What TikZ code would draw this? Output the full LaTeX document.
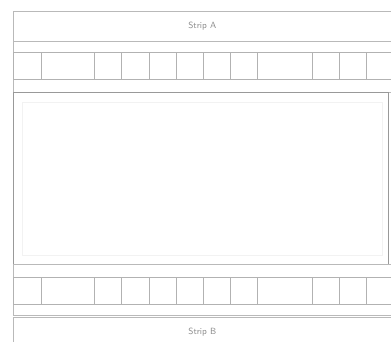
\documentclass[tikz,border=0pt]{standalone}
\usepackage{tikz}
\usetikzlibrary{positioning}

\begin{document}
\begin{tikzpicture}[
  x=1pt,y=-1pt,
  every node/.style={draw=gray!55,line width=0.6pt,rectangle,inner sep=0pt,anchor=north west},
  strip/.style={minimum width=378pt,minimum height=30pt,font=\sffamily\small,text=gray!90},
  band/.style={minimum width=378pt,minimum height=51pt},
  cell/.style={minimum height=27pt,draw=gray!60},
  panel/.style={draw=gray!80,line width=1pt,minimum width=375pt,minimum height=172pt},
  inner/.style={draw=gray!10,minimum width=360pt,minimum height=153pt}
]
  \useasboundingbox (0,0) rectangle (391,341);
  \begin{scope}
  \clip (0,0) rectangle (391,341);
  \node (stripA) [strip] at (13,11) {Strip A};
  \node (bandA) [band] at (13,41) {};
  \node (panel) [panel] at (13,92) {};
  \node (box) [inner] at (22,102) {};
  \node (bandB) [band] at (13,264) {};
  \node (stripB) [strip] at (13,317) {Strip B};

  % cell rows
  \foreach \x/\w [count=\i] in {13/28,41/53,94/27,121/28,149/27,176/27,203/27,230/27,257/55,312/27,339/27,366/26}{
    \node (top\i) [cell,minimum width=\w pt] at (\x,52) {};
    \node (bot\i) [cell,minimum width=\w pt] at (\x,277) {};
  }
  \end{scope}
\end{tikzpicture}
\end{document}
